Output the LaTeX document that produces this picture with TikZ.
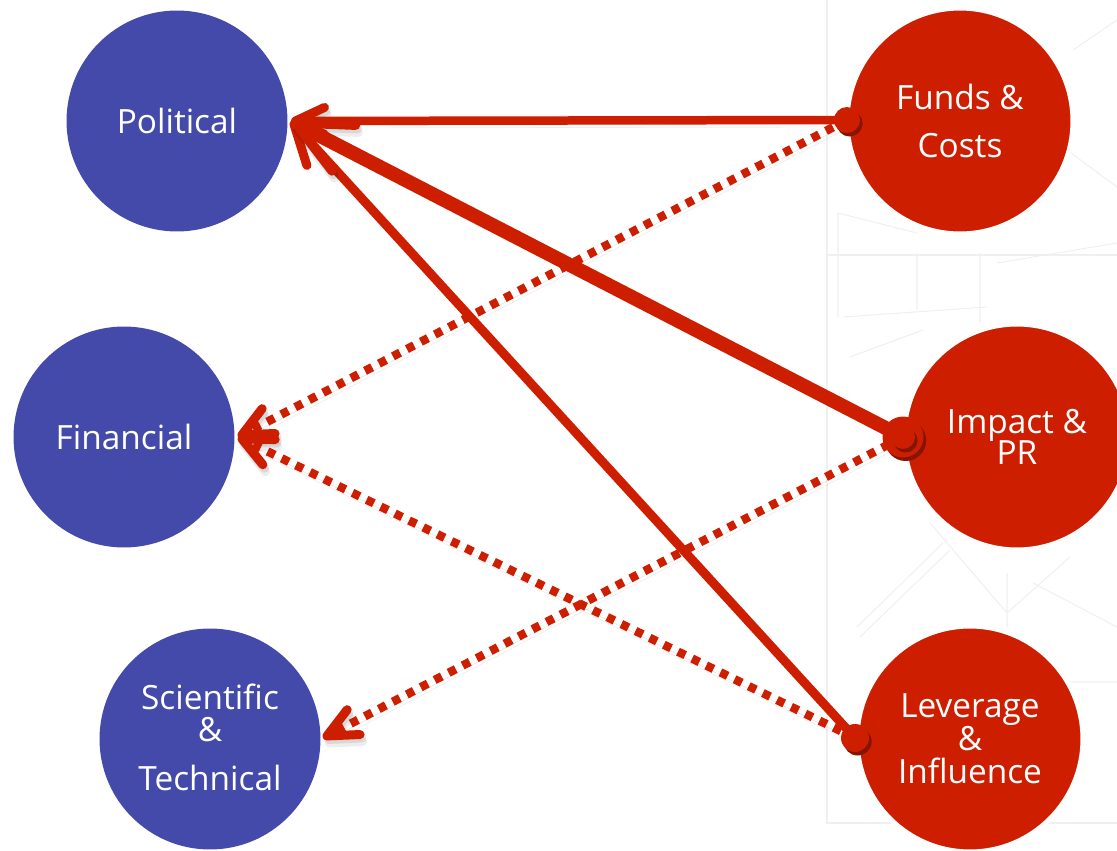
\documentclass[tikz,border=0pt]{standalone}
\usepackage{fontspec}
\setmainfont{Open Sans}
\usetikzlibrary{arrows.meta,shadows}
\definecolor{polblue}{RGB}{68,74,170}
\definecolor{stakered}{RGB}{205,30,0}
\tikzset{
  party/.style={circle,inner sep=0pt,text=white,align=center,font=\fontsize{19}{18.7}\selectfont},
  left party/.style={party,minimum size=4.42cm,fill=polblue},
  right party/.style={party,minimum size=4.52cm,fill=stakered,draw=white,line width=1mm},
  dot/.style={circle,fill=stakered,inner sep=0pt,drop shadow={shadow xshift=1.5pt,shadow yshift=-2pt,fill=stakered!65!black,opacity=1}},
  shade line/.style={preaction={draw=black,opacity=.09,transform canvas={xshift=1pt,yshift=-2pt}},
    preaction={draw=black,opacity=.07,transform canvas={xshift=1.5pt,yshift=-4pt}}},
  barb/.style 2 args={-{Straight Barb[round,length=#1,width=#2,line width=1.8mm]}},
  link/.style={draw=stakered,line width=1.7mm,shade line},
  dash link/.style={draw=stakered,line width=1.7mm,dash pattern=on 1.6mm off 1.55mm,shade line},
  faint/.style={draw=black!6,line width=.6pt}
}
\begin{document}
\begin{tikzpicture}[x=.02cm,y=.02cm]
  \useasboundingbox (0,0) rectangle (1117,850);
  % backdrop
  \draw[faint] (827,850) -- (827,27) -- (1117,27);
  \draw[faint] (827,595) -- (1117,595);
  \draw[faint] (838,637) -- (838,533) (838,637) -- (917,617) (917,597) -- (917,540) (980,597) -- (980,527);
  \draw[faint] (843,533) -- (987,543) (850,493) -- (923,520) (997,587) -- (1117,607);
  \draw[faint] (1073,800) -- (1117,830) (1067,700) -- (1117,663);
  \draw[faint] (930,327) -- (1007,237) (1007,277) -- (1007,223) (1007,237) -- (1070,293) (1033,267) -- (1117,223);
  \draw[faint] (857,223) -- (943,307) (860,213) -- (950,300) (1070,168) -- (1117,168);
  % parties
  \node (pol) [left party] at (177,729) {Political};
  \node (fin) [left party] at (124,413) {Financial};
  \node (sci) [left party] at (210,111) {Scientific\\[-.6pt]\&\\[9.2pt]Technical\rule[-2.3pt]{0pt}{0pt}};
  \node (fun) [right party] at (960,729) {Funds \&\\[8.6pt]Costs};
  \node (imp) [right party] at (1017,413) {Impact \&\\[-1pt]PR};
  \node (lev) [right party] at (970,111) {Leverage\\[0pt]\&\\[0pt]Influence};
  % ends of the arrows
  \coordinate (polend) at (291,729);
  \coordinate (finend) at (238,413);
  \coordinate (sciend) at (323,112);
  \coordinate (funend) at (847,730);
  \coordinate (impend) at (903,413);
  \coordinate (levend) at (855,112);
  % links
  \draw[dash link,barb={.6cm}{.56cm}] (funend) -- (finend);
  \draw[dash link,barb={.6cm}{.56cm}] (levend) -- (finend);
  \draw[dash link,barb={.6cm}{.56cm}] (impend) -- (sciend);
  \draw[link,line width=1.8mm,barb={.78cm}{.73cm}] (levend) -- (polend);
  \draw[link,barb={.58cm}{.54cm}] (funend) -- (polend);
  \draw[link,line width=2.8mm,barb={1.1cm}{1.03cm}] (impend) -- (polend);
  \node (fundot) [dot,minimum size=.52cm] at (funend) {};
  \node (levdot) [dot,minimum size=.56cm] at (levend) {};
  \node (impring) [dot,minimum size=.82cm] at (impend) {};
  \node (impdot) [dot,minimum size=.48cm] at (impend) {};
\end{tikzpicture}
\end{document}
